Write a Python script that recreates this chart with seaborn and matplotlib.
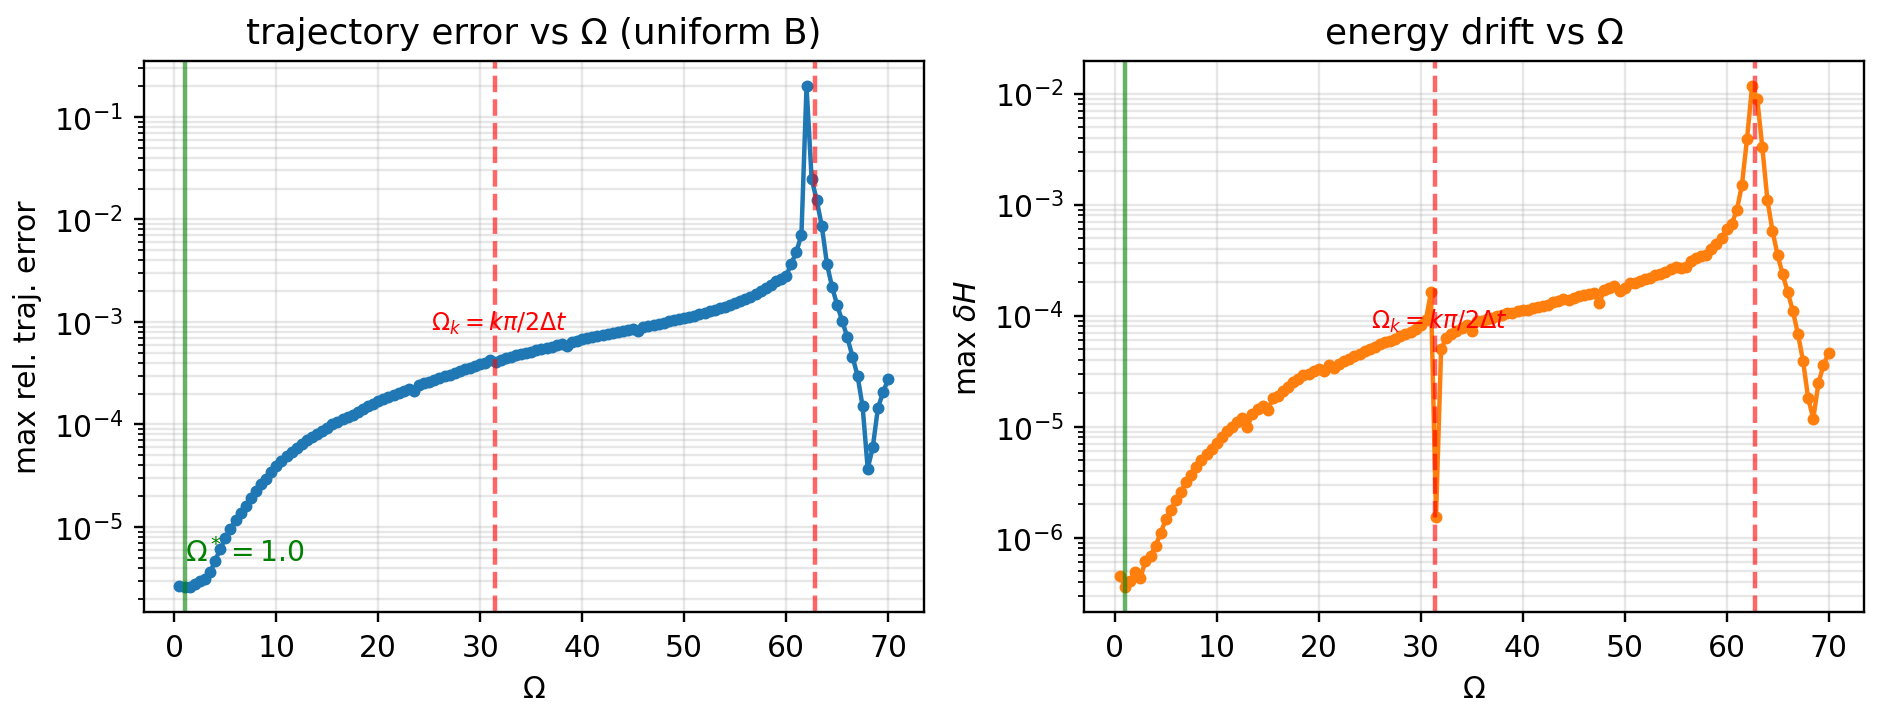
import matplotlib
matplotlib.use("Agg")
import numpy as np
import pandas as pd
import seaborn as sns
import matplotlib.pyplot as plt

omega = [
    0.5, 1.0, 1.5, 2.0, 2.5, 3.0, 3.5, 4.0, 4.5, 5.0,
    5.5, 6.0, 6.5, 7.0, 7.5, 8.0, 8.5, 9.0, 9.5, 10.0,
    10.5, 11.0, 11.5, 12.0, 12.5, 13.0, 13.5, 14.0, 14.5, 15.0,
    15.5, 16.0, 16.5, 17.0, 17.5, 18.0, 18.5, 19.0, 19.5, 20.0,
    20.5, 21.0, 21.5, 22.0, 22.5, 23.0, 23.5, 24.0, 24.5, 25.0,
    25.5, 26.0, 26.5, 27.0, 27.5, 28.0, 28.5, 29.0, 29.5, 30.0,
    30.5, 31.0, 31.5, 32.0, 32.5, 33.0, 33.5, 34.0, 34.5, 35.0,
    35.5, 36.0, 36.5, 37.0, 37.5, 38.0, 38.5, 39.0, 39.5, 40.0,
    40.5, 41.0, 41.5, 42.0, 42.5, 43.0, 43.5, 44.0, 44.5, 45.0,
    45.5, 46.0, 46.5, 47.0, 47.5, 48.0, 48.5, 49.0, 49.5, 50.0,
    50.5, 51.0, 51.5, 52.0, 52.5, 53.0, 53.5, 54.0, 54.5, 55.0,
    55.5, 56.0, 56.5, 57.0, 57.5, 58.0, 58.5, 59.0, 59.5, 60.0,
    60.5, 61.0, 61.5, 62.0, 62.5, 63.0, 63.5, 64.0, 64.5, 65.0,
    65.5, 66.0, 66.5, 67.0, 67.5, 68.0, 68.5, 69.0, 69.5, 70.0,
]

# max relative trajectory error (left panel)
traj_err = [
    2.65e-6, 2.6e-6, 2.6e-6, 2.75e-6, 2.95e-6, 3.1e-6, 3.6e-6, 4.7e-6, 6.1e-6, 7.8e-6,
    9.5e-6, 1.16e-5, 1.36e-5, 1.6e-5, 1.93e-5, 2.25e-5, 2.6e-5, 2.95e-5, 3.4e-5, 3.9e-5,
    4.4e-5, 4.9e-5, 5.4e-5, 5.9e-5, 6.4e-5, 7.0e-5, 7.5e-5, 8.1e-5, 8.7e-5, 9.3e-5,
    1.0e-4, 1.06e-4, 1.12e-4, 1.17e-4, 1.24e-4, 1.33e-4, 1.41e-4, 1.5e-4, 1.6e-4, 1.7e-4,
    1.77e-4, 1.85e-4, 1.94e-4, 2.03e-4, 2.12e-4, 2.22e-4, 2.12e-4, 2.42e-4, 2.52e-4, 2.62e-4,
    2.73e-4, 2.85e-4, 2.96e-4, 3.07e-4, 3.19e-4, 3.31e-4, 3.44e-4, 3.57e-4, 3.71e-4, 3.85e-4,
    4.0e-4, 4.3e-4, 4.1e-4, 4.3e-4, 4.45e-4, 4.58e-4, 4.72e-4, 4.86e-4, 5.0e-4, 5.14e-4,
    5.28e-4, 5.43e-4, 5.58e-4, 5.74e-4, 5.9e-4, 6.05e-4, 5.8e-4, 6.4e-4, 6.58e-4, 6.75e-4,
    6.93e-4, 7.1e-4, 7.28e-4, 7.46e-4, 7.64e-4, 7.83e-4, 8.02e-4, 8.2e-4, 8.4e-4, 8.6e-4,
    8.1e-4, 8.95e-4, 9.18e-4, 9.4e-4, 9.63e-4, 9.86e-4, 1.01e-3, 1.035e-3, 1.06e-3, 1.09e-3,
    1.12e-3, 1.15e-3, 1.19e-3, 1.23e-3, 1.27e-3, 1.31e-3, 1.36e-3, 1.41e-3, 1.47e-3, 1.53e-3,
    1.6e-3, 1.68e-3, 1.77e-3, 1.87e-3, 1.99e-3, 2.13e-3, 2.3e-3, 2.5e-3, 2.65e-3, 2.8e-3,
    3.7e-3, 4.8e-3, 7.1e-3, 0.2, 0.025, 0.0154, 8.6e-3, 3.7e-3, 2.2e-3, 1.47e-3,
    1.02e-3, 7.1e-4, 4.6e-4, 3.0e-4, 1.5e-4, 3.7e-5, 6.0e-5, 1.44e-4, 2.05e-4, 2.75e-4,
]

# max energy drift dH (right panel)
energy_drift = [
    4.5e-7, 3.6e-7, 4.1e-7, 4.9e-7, 4.3e-7, 6.2e-7, 6.8e-7, 8.5e-7, 1.1e-6, 1.47e-6,
    1.77e-6, 2.2e-6, 2.6e-6, 3.2e-6, 3.7e-6, 4.3e-6, 5.0e-6, 5.7e-6, 6.3e-6, 7.2e-6,
    8.1e-6, 9.1e-6, 1.0e-5, 1.1e-5, 1.2e-5, 1.0e-5, 1.3e-5, 1.45e-5, 1.55e-5, 1.4e-5,
    1.8e-5, 1.9e-5, 2.1e-5, 2.3e-5, 2.5e-5, 2.7e-5, 2.9e-5, 3.0e-5, 3.15e-5, 3.3e-5,
    3.2e-5, 3.6e-5, 3.4e-5, 3.7e-5, 3.9e-5, 4.1e-5, 4.3e-5, 4.55e-5, 4.8e-5, 5.0e-5,
    5.2e-5, 5.5e-5, 5.8e-5, 5.9e-5, 6.2e-5, 6.5e-5, 6.8e-5, 7.1e-5, 7.6e-5, 8.2e-5,
    9.1e-5, 1.62e-4, 1.55e-6, 5.0e-5, 6.3e-5, 6.9e-5, 7.3e-5, 7.8e-5, 8.2e-5, 7.3e-5,
    8.9e-5, 9.0e-5, 9.3e-5, 9.5e-5, 1.0e-4, 1.02e-4, 1.05e-4, 1.05e-4, 1.1e-4, 1.12e-4,
    1.13e-4, 1.16e-4, 1.2e-4, 1.23e-4, 1.25e-4, 1.34e-4, 1.35e-4, 1.4e-4, 1.37e-4, 1.45e-4,
    1.5e-4, 1.55e-4, 1.58e-4, 1.6e-4, 1.3e-4, 1.7e-4, 1.77e-4, 1.85e-4, 1.66e-4, 1.77e-4,
    1.95e-4, 1.97e-4, 2.05e-4, 2.15e-4, 2.17e-4, 2.3e-4, 2.35e-4, 2.45e-4, 2.63e-4, 2.75e-4,
    2.7e-4, 2.75e-4, 3.1e-4, 3.3e-4, 3.47e-4, 3.5e-4, 3.95e-4, 4.4e-4, 5.0e-4, 6.0e-4,
    6.7e-4, 8.9e-4, 1.5e-3, 3.9e-3, 1.17e-2, 9.0e-3, 3.3e-3, 1.1e-3, 5.8e-4, 3.5e-4,
    2.35e-4, 1.62e-4, 1.1e-4, 6.8e-5, 3.9e-5, 1.8e-5, 1.18e-5, 2.45e-5, 3.6e-5, 4.6e-5,
]

omega_star = 1.0
omega_res = [31.4159, 62.8319]   # k*pi/(2*dt), dt = 0.05

df = pd.DataFrame({"omega": omega, "traj_err": traj_err, "dH": energy_drift})

fig, axes = plt.subplots(1, 2, figsize=(8.785, 3.313), dpi=214)

panels = [
    ("traj_err", "tab:blue", "trajectory error vs Ω (uniform B)", "max rel. traj. error", 7.3e-4),
    ("dH", "tab:orange", "energy drift vs Ω", r"max $\delta H$", 6.8e-5),
]

for ax, (col, colr, title, ylab, ytxt) in zip(axes, panels):
    sns.lineplot(data=df, x="omega", y=col, ax=ax, color=colr, marker="o",
                 markersize=3, linewidth=1.5, markeredgecolor=colr, markeredgewidth=1)
    ax.set_yscale("log")
    ax.axvline(omega_star, color="green", alpha=0.6, lw=1.5)
    for w in omega_res:
        ax.axvline(w, color="red", ls="--", alpha=0.6, lw=1.5)
    ax.text(0.8 * omega_res[0], ytxt, r"$\Omega_k = k\pi/2\Delta t$", color="red",
            fontsize=8, va="bottom")
    ax.grid(True, which="both", alpha=0.3)
    ax.set_title(title)
    ax.set_xlabel("Ω")
    ax.set_ylabel(ylab)

axes[0].text(omega_star, 4.1e-6, r"$\Omega^* = 1.0$", color="green", fontsize=9.5, va="bottom")

plt.subplots_adjust(left=0.0766, right=0.9915, top=0.9126, bottom=0.1354, wspace=0.2065)
plt.savefig("out.png", dpi=214)
